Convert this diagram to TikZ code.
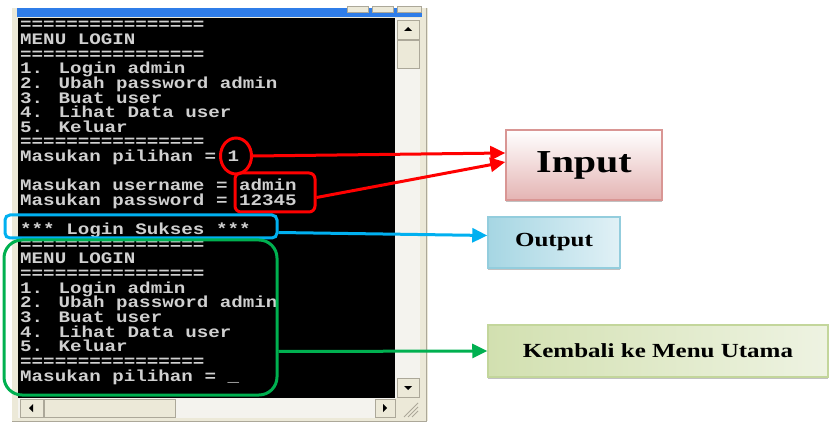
\documentclass[tikz,border=0pt]{standalone}
\usepackage{fontspec}
\setmainfont{Liberation Serif}
\newfontfamily\consfont[FakeStretch=1.2]{Liberation Mono}
\newfontfamily\labelfont[FakeStretch=1.25]{Liberation Serif}
\usetikzlibrary{arrows.meta}
\usetikzlibrary{shapes.geometric}
\usetikzlibrary{shadows}
\definecolor{xpbeige}{HTML}{ECE9D8}
\definecolor{xptrack}{HTML}{F4F3EE}
\definecolor{xpedge}{HTML}{ACA899}
\definecolor{xpblue}{HTML}{2F7DE8}
\definecolor{consgray}{HTML}{D0D0D0}
\definecolor{markred}{HTML}{FF0000}
\definecolor{markblue}{HTML}{00B0F0}
\definecolor{markgreen}{HTML}{00B050}
\definecolor{inputpink}{HTML}{E4B4B3}
\definecolor{inputedge}{HTML}{D99694}
\definecolor{outblue}{HTML}{A6D6E3}
\definecolor{outlight}{HTML}{E1F1F6}
\definecolor{outedge}{HTML}{93CDDD}
\definecolor{backgreen}{HTML}{D2E0B0}
\definecolor{backlight}{HTML}{EEF3E2}
\definecolor{backedge}{HTML}{C3D69B}
\tikzset{cons/.style = {anchor=base west, inner sep=0, text=consgray,
                        text height=10pt, text depth=2pt,
                        font=\consfont\bfseries\fontsize{16}{16}\selectfont}}
\tikzset{pointer/.style = {line width=3pt, -{Triangle[length=15pt,width=14pt]}}}
\tikzset{markbox/.style = {draw, line width=3pt, inner sep=0}}
\tikzset{labelbox/.style = {draw, line width=1.5pt, inner sep=0,
                            drop shadow={shadow xshift=0pt, shadow yshift=-2pt,
                                         fill=gray!70, opacity=0.7}}}
\tikzset{xpbutton/.style = {fill=xpbeige, draw=xpedge, line width=0.8pt}}

\begin{document}
\begin{tikzpicture}[x=1pt, y=-1pt]
      \useasboundingbox (0,0) rectangle (831,425);

      \fill [xpbeige] (12,8) rectangle (428,421);
      \draw [xpedge, line width=0.8pt] (426,8) -- (426,421) -- (12,421);
      \fill [xpblue] (17,8) rectangle (422,17);
      \draw [xpbutton] (347,6) rectangle (368,12);
      \draw [xpbutton] (372,6) rectangle (393,12);
      \draw [xpbutton] (397,6) rectangle (421,12);
      \fill [black] (18,18) rectangle (395,398);

      \fill [xptrack] (395,18) rectangle (420,398);
      \fill [xptrack] (18,398) rectangle (395,418);
      \draw [xpbutton] (397,20) rectangle (419,39);
      \draw [xpbutton] (397,40) rectangle (419,68);
      \draw [xpbutton] (397,378) rectangle (419,397);
      \draw [xpbutton] (20,399) rectangle (43,417);
      \draw [xpbutton] (44,399) rectangle (175,417);
      \draw [xpbutton] (375,399) rectangle (395,417);
      \fill (404,31) -- (412,31) -- (408,27) -- cycle;
      \fill (404,386) -- (412,386) -- (408,390) -- cycle;
      \fill (33,404) -- (33,412) -- (29,408) -- cycle;
      \fill (383,404) -- (383,412) -- (387,408) -- cycle;
      \foreach \g in {0,4,8}
        \draw [xpedge, line width=0.8pt] (404+\g,417) -- (418,403+\g);

      \foreach \n/\t in {0/================, 1/MENU LOGIN, 2/================,
                         3/1. Login admin, 4/2. Ubah password admin, 5/3. Buat user,
                         6/4. Lihat Data user, 7/5. Keluar, 8/================,
                         9/Masukan pilihan = 1, 11/Masukan username = admin,
                         12/Masukan password = 12345, 14/*** Login Sukses ***,
                         15/================, 16/MENU LOGIN, 17/================,
                         18/1. Login admin, 19/2. Ubah password admin, 20/3. Buat user,
                         21/4. Lihat Data user, 22/5. Keluar, 23/================,
                         24/Masukan pilihan = \_}
        \node [cons] (line\n) at (20, {30+14.625*\n}) {\t};

      \node [markbox, markred, ellipse, minimum width=31pt, minimum height=36pt] (pilih) at (236,156) {};
      \node [markbox, markred, rounded corners=6pt, minimum width=80pt, minimum height=39pt] (akun) at (275,192.5) {};
      \node [markbox, markblue, rounded corners=5pt, minimum width=272pt, minimum height=23pt] (sukses) at (141,226.5) {};
      \node [markbox, markgreen, rounded corners=18pt, minimum width=273pt, minimum height=155pt] (menu) at (140.5,317.5) {};

      \node [labelbox, draw=inputedge, top color=white, bottom color=inputpink,
             minimum width=156pt, minimum height=70pt,
             font=\labelfont\bfseries\fontsize{32}{32}\selectfont] (input) at (584,165) {Input};
      \node [labelbox, draw=outedge, left color=outblue, right color=outlight,
             minimum width=132pt, minimum height=51pt,
             font=\labelfont\bfseries\fontsize{20}{20}\selectfont] (output) at (554,242.5) {Output};
      \node [labelbox, draw=backedge, left color=backgreen, right color=backlight,
             minimum width=340pt, minimum height=52pt,
             font=\labelfont\bfseries\fontsize{20}{20}\selectfont] (kembali) at (658,351) {Kembali ke Menu Utama};

      \draw [pointer, markred] (pilih.east) -- ([yshift=12pt]input.west);
      \draw [pointer, markred] ([yshift=-5pt]akun.east) -- ([yshift=3pt]input.west);
      \draw [pointer, markblue] ([yshift=-6pt]sukses.east) -- ([yshift=7pt]output.west);
      \draw [pointer, markgreen] ([yshift=-34pt]menu.east) -- (kembali.west);
    \end{tikzpicture}
\end{document}
